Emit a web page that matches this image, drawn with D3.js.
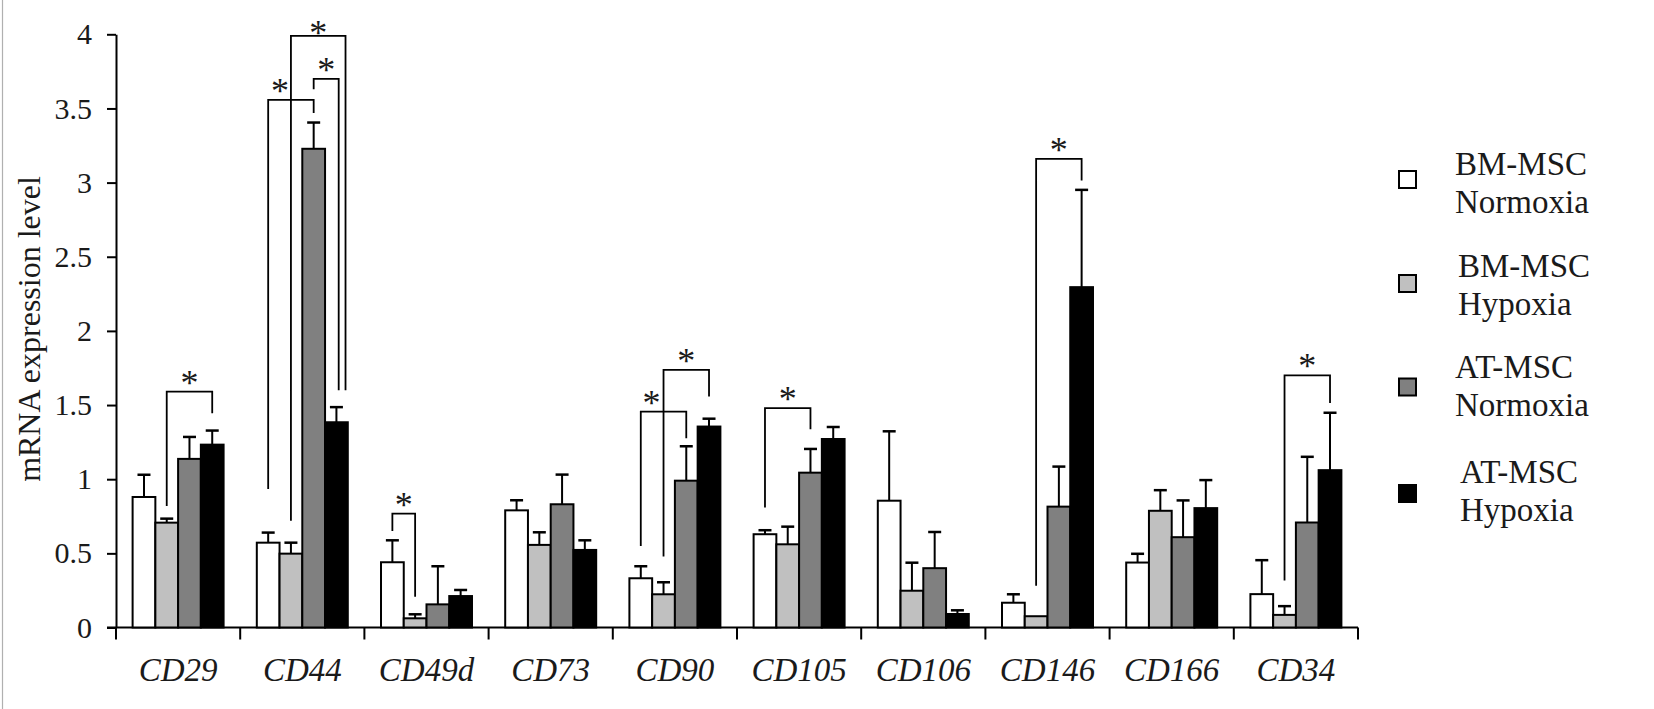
<!DOCTYPE html>
<html><head><meta charset="utf-8"><script src="https://cdn.jsdelivr.net/npm/d3@7"></script></head>
<body style="margin:0">
<svg id="s" width="1654" height="709" font-family="Liberation Serif" style="font-family:'Liberation Serif';display:block"></svg>
<script>
// ---- data ----
const categories = ["CD29", "CD44", "CD49d", "CD73", "CD90", "CD105", "CD106", "CD146", "CD166", "CD34"];
const seriesNames = ["BM-MSC Normoxia", "BM-MSC Hypoxia", "AT-MSC Normoxia", "AT-MSC Hypoxia"];
const legendLine1 = ["BM-MSC", "BM-MSC", "AT-MSC", "AT-MSC"];
const legendLine2 = ["Normoxia", "Hypoxia", "Normoxia", "Hypoxia"];

const bmNormoxia    = [0.88, 0.572, 0.44, 0.79, 0.332, 0.629, 0.855, 0.167, 0.438, 0.225];
const bmNormoxiaErr = [0.15, 0.068, 0.148, 0.068, 0.081, 0.027, 0.468, 0.057, 0.059, 0.229];
const bmHypoxia     = [0.707, 0.498, 0.062, 0.557, 0.224, 0.561, 0.248, 0.076, 0.787, 0.085];
const bmHypoxiaErr  = [0.027, 0.074, 0.027, 0.085, 0.081, 0.119, 0.189, 0.0, 0.139, 0.059];
const atNormoxia    = [1.137, 3.228, 0.156, 0.831, 0.99, 1.044, 0.40, 0.815, 0.609, 0.708];
const atNormoxiaErr = [0.148, 0.177, 0.257, 0.2, 0.232, 0.16, 0.244, 0.27, 0.248, 0.443];
const atHypoxia     = [1.233, 1.384, 0.212, 0.523, 1.355, 1.271, 0.091, 2.295, 0.805, 1.061];
const atHypoxiaErr  = [0.095, 0.102, 0.041, 0.065, 0.053, 0.081, 0.025, 0.656, 0.189, 0.387];

const yTicks = [0, 0.5, 1, 1.5, 2, 2.5, 3, 3.5, 4];

// significance brackets: category, from/to series position, bracket top value, leg end values
const bracketCat   = ["CD29", "CD44", "CD44", "CD44", "CD49d", "CD90", "CD90", "CD105", "CD146", "CD34"];
const bracketFrom  = [1, 0, 1, 2, 0, 0, 1, 0, 1, 1];
const bracketTo    = [3, 2, 3.4, 3.1, 1, 2, 3, 2, 3, 3];
const bracketTop   = [1.59, 3.558, 3.99, 3.70, 0.768, 1.456, 1.737, 1.479, 3.16, 1.70];
const bracketFromEnd = [0.82, 0.934, 0.72, 3.63, 0.651, 0.55, 0.478, 0.81, 0.282, 0.317];
const bracketToEnd   = [1.445, 3.47, 1.6, 1.6, 0.207, 1.276, 1.557, 1.337, 3.014, 1.513];

// ---- styles / layout ----
const FONT = "Liberation Serif";
const TXT = "#1a1a1a";
const colors = ["#ffffff", "#c0c0c0", "#808080", "#000000"];
const starDx = [0, -11, 0, 0, 0, -12, 0, 0, 0, 0];
const starDy = [0, 0, 6, 0, 0, 0, 0, 0, 0, 0];

const values = [bmNormoxia, bmHypoxia, atNormoxia, atHypoxia];
const errors = [bmNormoxiaErr, bmHypoxiaErr, atNormoxiaErr, atHypoxiaErr];

const svg = d3.select("#s");

// left border line of the figure
svg.append("line").attr("x1", 2.5).attr("x2", 2.5).attr("y1", 0).attr("y2", 709)
  .attr("stroke", "#b0b0b0").attr("stroke-width", 1.2);

const y = d3.scaleLinear().domain([0, 4]).range([627.5, 34.3]);
const x = d3.scaleBand().domain(categories).range([116, 1358]).paddingInner(0).paddingOuter(0);
const xs = d3.scaleBand().domain(d3.range(4)).range([0, x.bandwidth()]).paddingInner(0).paddingOuter(0.73);
const seriesCenter = (cat, pos) => x(cat) + xs.step() * xs.paddingOuter() + (pos + 0.5) * xs.bandwidth();

function serif(sel, size, italic) {
  sel.attr("font-family", FONT).attr("font-size", size).attr("fill", TXT)
     .style("font-family", "'" + FONT + "'").style("font-size", size + "px")
     .style("font-style", italic ? "italic" : "normal");
  if (italic) sel.attr("font-style", "italic");
  return sel;
}

// Y axis
const yAxis = d3.axisLeft(y).tickValues(yTicks).tickFormat(d => String(d)).tickSize(9).tickSizeOuter(0).tickPadding(15);
const gy = svg.append("g").attr("transform", "translate(116,0)").call(yAxis);
gy.attr("font-family", FONT).attr("font-size", 30);
gy.select(".domain").attr("stroke", "#000").attr("stroke-width", 2);
gy.selectAll(".tick line").attr("stroke", "#000").attr("stroke-width", 2);
serif(gy.selectAll(".tick text"), 30);

// X axis line + ticks at band boundaries
const baseY = y(0);
svg.append("line").attr("x1", 107).attr("x2", x.range()[1]).attr("y1", baseY).attr("y2", baseY)
  .attr("stroke", "#000").attr("stroke-width", 2);
const boundaries = categories.map(c => x(c)).concat([x.range()[1]]);
svg.append("g").selectAll("line").data(boundaries).join("line")
  .attr("x1", d => d).attr("x2", d => d).attr("y1", baseY).attr("y2", baseY + 12)
  .attr("stroke", "#000").attr("stroke-width", 2);
serif(svg.append("g").selectAll("text").data(categories).join("text")
  .attr("x", d => x(d) + x.bandwidth() / 2).attr("y", 681)
  .attr("text-anchor", "middle"), 33, true)
  .text(d => d);

// Y title
serif(svg.append("text").attr("transform", "translate(40,329) rotate(-90)")
  .attr("text-anchor", "middle"), 32).text("mRNA expression level");

// Bars
const barData = [];
categories.forEach((c, ci) => {
  for (let s = 0; s < 4; s++) barData.push({ c, s, v: values[s][ci], e: errors[s][ci] });
});
svg.append("g").selectAll("rect").data(barData).join("rect")
  .attr("x", d => x(d.c) + xs(d.s))
  .attr("y", d => y(d.v))
  .attr("width", xs.bandwidth())
  .attr("height", d => baseY - y(d.v))
  .attr("fill", d => colors[d.s])
  .attr("stroke", "#000").attr("stroke-width", 2);

const eb = svg.append("g");
const withErr = barData.filter(d => d.e > 0);
eb.selectAll("line.v").data(withErr).join("line").attr("class", "v")
  .attr("x1", d => seriesCenter(d.c, d.s)).attr("x2", d => seriesCenter(d.c, d.s))
  .attr("y1", d => y(d.v)).attr("y2", d => y(d.v + d.e))
  .attr("stroke", "#000").attr("stroke-width", 2);
eb.selectAll("line.cap").data(withErr).join("line").attr("class", "cap")
  .attr("x1", d => seriesCenter(d.c, d.s) - 6.5).attr("x2", d => seriesCenter(d.c, d.s) + 6.5)
  .attr("y1", d => y(d.v + d.e)).attr("y2", d => y(d.v + d.e))
  .attr("stroke", "#000").attr("stroke-width", 2.5);

// Significance brackets
const br = svg.append("g");
bracketCat.forEach((c, i) => {
  const x1 = seriesCenter(c, bracketFrom[i]);
  const x2 = seriesCenter(c, bracketTo[i]);
  const yt = y(bracketTop[i]);
  const path = d3.path();
  path.moveTo(x1, y(bracketFromEnd[i]));
  path.lineTo(x1, yt);
  path.lineTo(x2, yt);
  path.lineTo(x2, y(bracketToEnd[i]));
  br.append("path").attr("d", path.toString()).attr("fill", "none")
    .attr("stroke", "#000").attr("stroke-width", 1.8);
  serif(br.append("text").attr("x", (x1 + x2) / 2 + starDx[i]).attr("y", yt + 3 + starDy[i])
    .attr("text-anchor", "middle"), 36).text("*");
});

// Legend
const legendSqY = [171, 275, 378.5, 485];
const legendTxtX = [1455, 1458, 1455, 1460];
const legendTxtY = [175, 277, 378, 483];
const lg = svg.append("g");
seriesNames.forEach((n, i) => {
  lg.append("rect").attr("x", 1399).attr("y", legendSqY[i]).attr("width", 17).attr("height", 17)
    .attr("fill", colors[i]).attr("stroke", "#000").attr("stroke-width", 2);
  serif(lg.append("text").attr("x", legendTxtX[i]).attr("y", legendTxtY[i]), 33).text(legendLine1[i]);
  serif(lg.append("text").attr("x", legendTxtX[i]).attr("y", legendTxtY[i] + 38), 33).text(legendLine2[i]);
});
</script>
</body>
</html>
